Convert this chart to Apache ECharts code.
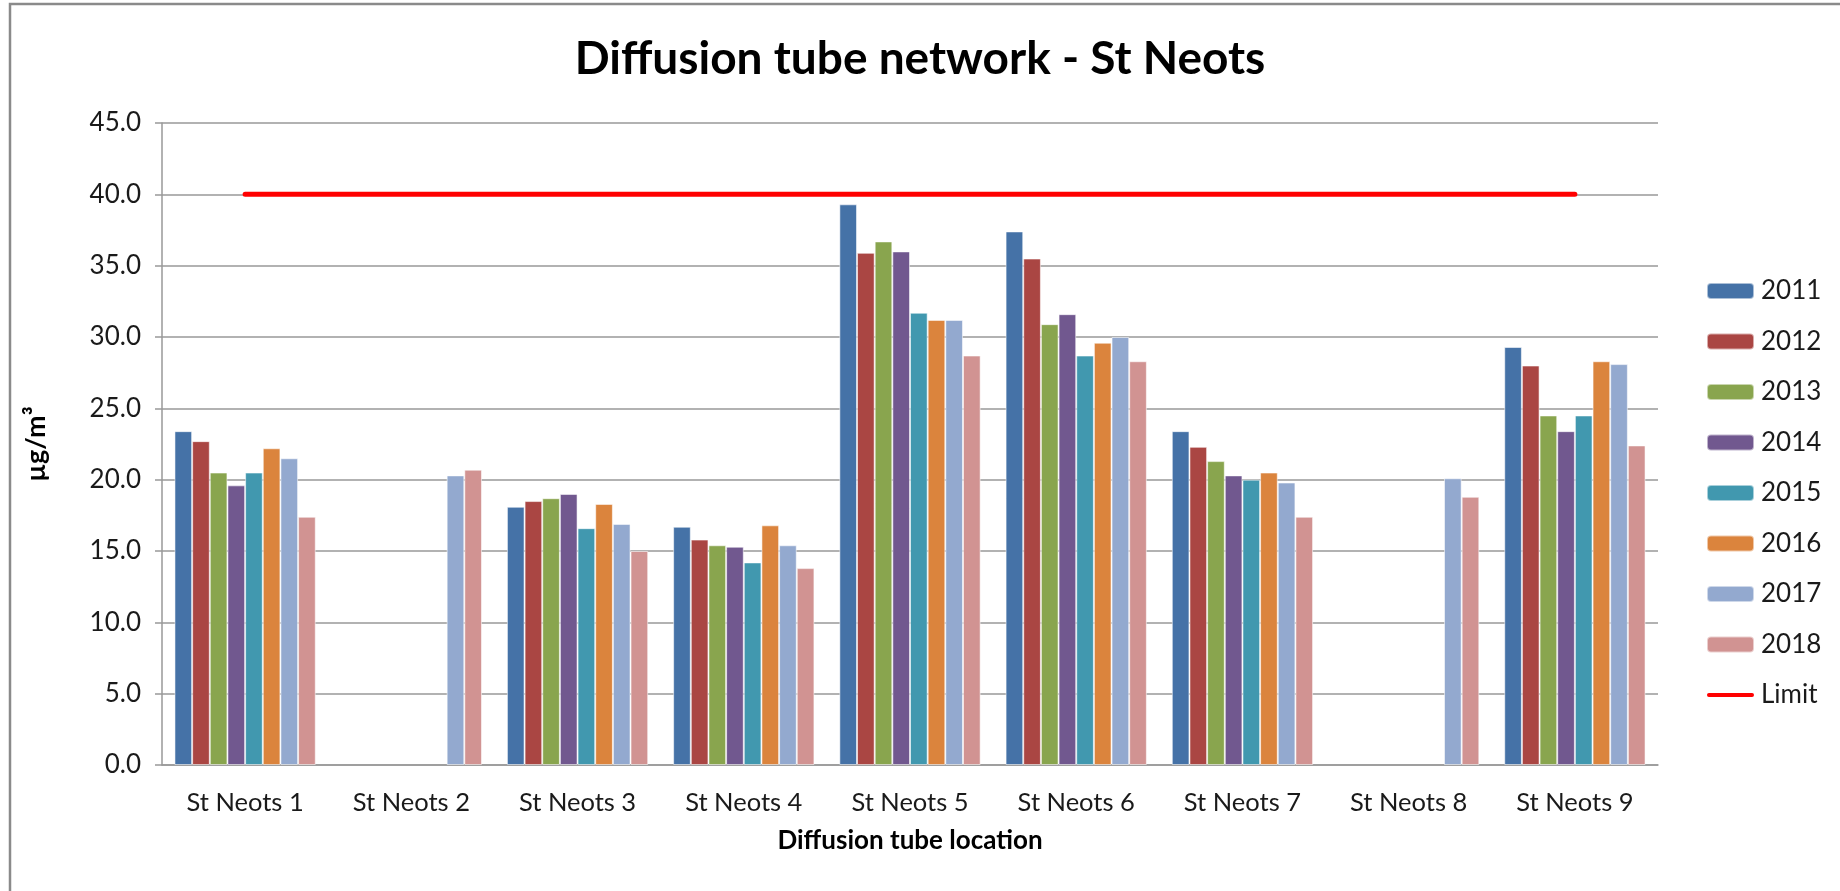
<!DOCTYPE html>
<html>
<head>
<meta charset="utf-8">
<script src="https://cdn.jsdelivr.net/npm/echarts@6/dist/echarts.min.js"></script>
<style>
  html, body { margin: 0; padding: 0; background: #fff; }
  #chart { width: 1840px; height: 891px; }
</style>
</head>
<body>
<div id="chart"></div>
<script>
var categories = ["St Neots 1", "St Neots 2", "St Neots 3", "St Neots 4", "St Neots 5", "St Neots 6", "St Neots 7", "St Neots 8", "St Neots 9"];
var years = ["2011", "2012", "2013", "2014", "2015", "2016", "2017", "2018"];
var v2011 = [23.4, null, 18.1, 16.7, 39.3, 37.4, 23.4, null, 29.3];
var v2012 = [22.7, null, 18.5, 15.8, 35.9, 35.5, 22.3, null, 28.0];
var v2013 = [20.5, null, 18.7, 15.4, 36.7, 30.9, 21.3, null, 24.5];
var v2014 = [19.6, null, 19.0, 15.3, 36.0, 31.6, 20.3, null, 23.4];
var v2015 = [20.5, null, 16.6, 14.2, 31.7, 28.7, 20.0, null, 24.5];
var v2016 = [22.2, null, 18.3, 16.8, 31.2, 29.6, 20.5, null, 28.3];
var v2017 = [21.5, 20.3, 16.9, 15.4, 31.2, 30.0, 19.8, 20.1, 28.1];
var v2018 = [17.4, 20.7, 15.0, 13.8, 28.7, 28.3, 17.4, 18.8, 22.4];
var limit = [40, 40, 40, 40, 40, 40, 40, 40, 40];
var yTicks = { min: 0, max: 45, interval: 5 };

var yearValues = [v2011, v2012, v2013, v2014, v2015, v2016, v2017, v2018];
var colors = ["#4572A7", "#AA4643", "#89A54E", "#71588F", "#4198AF", "#DB843D", "#93A9CF", "#D19392"];
var font = "Lato, 'Open Sans', sans-serif";

var series = years.map(function(y, i) {
    return {
        name: y,
        type: "bar",
        data: yearValues[i],
        barGap: "0%",
        barCategoryGap: "15%",
        itemStyle: { color: colors[i], borderColor: "rgba(255,255,255,0.55)", borderWidth: 1 }
    };
});
series.push({
    name: "Limit",
    type: "line",
    data: limit,
    symbol: "none",
    lineStyle: { color: "#FF0000", width: 5, cap: "round" },
    itemStyle: { color: "#FF0000" },
    z: 5
});

// thin red bar for the Limit legend entry (tiny corner points keep the 47x16 box)
var limitIcon = "path://M0,0L0.01,0L0,0.01Z M1,6H46A2,2,0,0,1,46,10H1A2,2,0,0,1,1,6Z M47,16L46.99,16L47,15.99Z";
var legendData = years.map(function(y) { return { name: y }; });
legendData.push({ name: "Limit", icon: limitIcon });

var myChart = echarts.init(document.getElementById("chart"));
var option = {
    animation: false,
    backgroundColor: "#fff",
    graphic: [{
        type: "rect",
        shape: { x: 10, y: 4, width: 1900, height: 1000 },
        style: { fill: "none", stroke: "#8a8a8a", lineWidth: 2.5 },
        silent: true
    }],
    title: {
        text: "Diffusion tube network - St Neots",
        left: "center",
        top: 31,
        textStyle: { fontFamily: font, fontWeight: "bold", fontSize: 46, color: "#000" }
    },
    legend: {
        orient: "vertical",
        left: 1701,
        top: 273,
        itemWidth: 47,
        itemHeight: 16,
        itemGap: 24.5,
        data: legendData,
        textStyle: { fontFamily: font, fontSize: 26, color: "#1a1a1a", lineHeight: 26, padding: [0, 0, 0, 2] }
    },
    grid: { left: 162, right: 182, top: 123, bottom: 126 },
    xAxis: {
        type: "category",
        data: categories,
        name: "Diffusion tube location",
        nameLocation: "middle",
        nameGap: 63,
        nameTextStyle: { fontFamily: font, fontWeight: "bold", fontSize: 26, color: "#000" },
        axisLine: { lineStyle: { color: "#999", width: 1.5 } },
        axisTick: { show: false },
        axisLabel: { fontFamily: font, fontSize: 25.5, color: "#1a1a1a", margin: 25 }
    },
    yAxis: {
        type: "value",
        min: yTicks.min,
        max: yTicks.max,
        interval: yTicks.interval,
        name: "µg/m³",
        nameLocation: "middle",
        nameGap: 112,
        nameTextStyle: { fontFamily: font, fontWeight: "bold", fontSize: 27, color: "#000" },
        axisLine: { show: true, lineStyle: { color: "#999", width: 1.5 } },
        axisTick: { show: true, length: 7, lineStyle: { color: "#999", width: 1.5 } },
        splitLine: { lineStyle: { color: "#999", width: 1.5 } },
        axisLabel: {
            fontFamily: font, fontSize: 26, color: "#1a1a1a", margin: 21,
            formatter: function(v) { return v.toFixed(1); }
        }
    },
    series: series
};
myChart.setOption(option);
</script>
</body>
</html>
